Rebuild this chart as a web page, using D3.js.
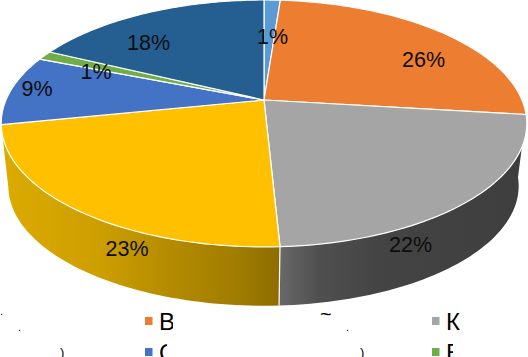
<!DOCTYPE html>
<html><head><meta charset="utf-8">
<script src="https://cdn.jsdelivr.net/npm/d3@7"></script>
<style>html,body{margin:0;padding:0;background:#fff}svg{display:block}text{font-family:"Liberation Sans",Arial,sans-serif}</style>
</head><body><svg id="c" width="528" height="357"></svg>
<script>
// data
const shares = [1.2, 25.7, 22.3, 22.6, 9.2, 1.2, 17.8];
const pctLabels = ["1%", "26%", "22%", "23%", "9%", "1%", "18%"];
const legendNames = ["В", "К", "С", "Е"];
const legendResidue = [".", ".", ")", "~", ".", ")"];
// style
const sliceColors = ["#5b9bd5", "#ed7d31", "#a5a5a5", "#ffc000", "#4472c4", "#70ad47", "#255e91"];
const legendColors = ["#ed7d31", "#a5a5a5", "#4472c4", "#70ad47"];
// layout
const labelX = [272.5, 423.5, 410.5, 127, 37, 96, 148.5];
const labelY = [44, 67, 252, 256, 96, 79, 50];
const legendX = [145, 432, 145, 432];
const legendY = [317, 317, 348, 348];
const legendTextW = [13, 13, 7, 6];
const residueX = [0, 18, 60, 320, 346, 360];
const residueY = [315, 331, 357, 321, 331, 357];
const residueSize = [11, 11, 13, 20, 11, 13];

const svg = d3.select("#c");
const cx = 264, apexY = 100, R = 258, b = 119, k = -0.19;
const project = (t, r = 1) => {
  const xs = Math.sin(t) * r, ys = -Math.cos(t) * r, w = 1 + k * ys;
  return [cx + R * xs / w, apexY + b * ys / w];
};
const lower = ([x, y]) => [263.5 + (x - cx) * 0.971, 186 + (y - 123.5) * 0.97];
const samples = (a0, a1) => d3.range(0, 61).map(i => a0 + (a1 - a0) * i / 60);
const line = d3.line();

const arcs = d3.pie().sort(null).value(d => d)(shares);

const defs = svg.append("defs");
const grads = [
  {id: "gw", stops: [[0, "#dcaa00"], [.35, "#cc9e00"], [.6, "#b48b00"], [.85, "#a07c00"], [1, "#8d6c00"]], x1: 5, x2: 280},
  {id: "kw", stops: [[0, "#686868"], [.15, "#505050"], [.4, "#444444"], [1, "#3e3e3e"]], x1: 281, x2: 525}
];
grads.forEach(g => {
  const lg = defs.append("linearGradient").attr("id", g.id).attr("gradientUnits", "userSpaceOnUse")
    .attr("x1", g.x1).attr("x2", g.x2).attr("y1", 0).attr("y2", 0);
  g.stops.forEach(s => lg.append("stop").attr("offset", s[0]).attr("stop-color", s[1]));
});

// side walls: grey and yellow slices are the ones that face the viewer
[[2, "url(#kw)"], [3, "url(#gw)"]].forEach(([i, fill]) => {
  const top = samples(arcs[i].startAngle, arcs[i].endAngle).map(t => project(t));
  const pts = top.concat(top.map(lower).reverse());
  svg.append("path").attr("d", line(pts) + "Z").attr("fill", fill);
});
// wall divider
{
  const t = arcs[2].endAngle, p = project(t);
  svg.append("path").attr("d", line([p, lower(p)])).attr("stroke", "#fff").attr("stroke-width", 1.2).attr("fill", "none");
}
// top faces
svg.selectAll("path.top").data(arcs).join("path").attr("class", "top")
  .attr("d", d => line([[cx, apexY], ...samples(d.startAngle, d.endAngle).map(t => project(t))]) + "Z")
  .attr("fill", (d, i) => sliceColors[i])
  .attr("stroke", "#fff").attr("stroke-width", 1.2).attr("stroke-linejoin", "round");

// percent labels
svg.selectAll("text.pct").data(pctLabels).join("text").attr("class", "pct")
  .attr("x", (d, i) => labelX[i]).attr("y", (d, i) => labelY[i])
  .attr("text-anchor", "middle").attr("font-size", 21.5).attr("fill", "#0d0d0d")
  .text(d => d);

// legend (its text is cut off in the picture)
legendNames.forEach((n, i) => {
  const g = svg.append("g");
  g.append("rect").attr("x", legendX[i]).attr("y", legendY[i]).attr("width", 7.5).attr("height", 8).attr("fill", legendColors[i]);
  const id = "lc" + i;
  defs.append("clipPath").attr("id", id).append("rect")
    .attr("x", legendX[i] + 15).attr("y", legendY[i] - 6)
    .attr("width", legendTextW[i]).attr("height", 30);
  g.append("text").attr("x", legendX[i] + 14).attr("y", legendY[i] + 13)
    .attr("font-size", 24).attr("fill", "#000").attr("clip-path", `url(#${id})`).text(n);
});

// leftover fragments of the hidden legend text
svg.selectAll("text.res").data(legendResidue).join("text").attr("class", "res")
  .attr("x", (d, i) => residueX[i]).attr("y", (d, i) => residueY[i])
  .attr("font-size", (d, i) => residueSize[i]).attr("fill", "#000").text(d => d);
</script></body></html>
